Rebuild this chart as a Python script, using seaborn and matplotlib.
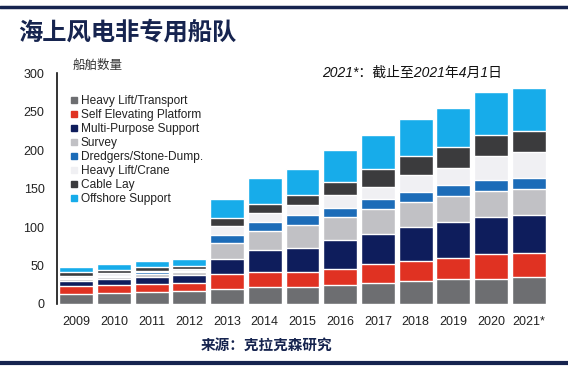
import numpy as np
import seaborn as sns
import matplotlib.pyplot as plt
from matplotlib.lines import Line2D

# data (number of vessels per type)
years = ['2009', '2010', '2011', '2012', '2013', '2014', '2015',
         '2016', '2017', '2018', '2019', '2020', '2021*']
heavy_lift_transport = [13, 14, 16, 17, 20, 21.5, 21.5, 24.5, 27.5, 30, 32, 33, 35.5]
self_elevating = [10.5, 10.5, 10, 10.5, 19, 20.5, 20.5, 20.5, 24.5, 25.5, 28, 32.5, 31.5]
multi_purpose = [6.5, 7.5, 9.5, 10, 19.5, 28, 30.5, 38, 39, 44.5, 46.5, 47.5, 48.5]
survey = [2.5, 3, 3.5, 3.5, 21.5, 25, 30, 30.5, 33, 33, 34.5, 34.5, 34.5]
dredgers = [1.5, 2, 2, 2, 10, 12, 13, 12, 13, 13, 14.5, 14.5, 14]
heavy_lift_crane = [3, 3, 2.5, 2, 11, 12, 13, 16, 15.5, 21.5, 22, 30.5, 34]
cable_lay = [4.5, 4, 5, 5, 11.5, 11.5, 13, 17.5, 23, 25, 26.5, 27.5, 27]
offshore_support = [6.5, 8, 7, 9, 24, 33.5, 34.5, 42, 44.5, 48.5, 51, 56.5, 55.5]

series_names = ['Heavy Lift/Transport', 'Self Elevating Platform', 'Multi-Purpose Support',
                'Survey', 'Dredgers/Stone-Dump.', 'Heavy Lift/Crane', 'Cable Lay',
                'Offshore Support']
series = [heavy_lift_transport, self_elevating, multi_purpose, survey,
          dredgers, heavy_lift_crane, cable_lay, offshore_support]
colors = ['#6d6e71', '#e03222', '#0e1d5c', '#c1c1c5',
          '#1c6cb8', '#f0f0f3', '#3b3b3d', '#17acea']

navy = '#16244f'

sns.set_theme(style='white')
plt.rcParams['font.family'] = ['Liberation Sans', 'Noto Sans CJK SC']

fig = plt.figure(figsize=(5.68, 3.71), dpi=100)
ax = fig.add_axes([0.1004, 0.1806, 0.8636, 0.6213])

# stacked bars: draw cumulative totals from the top layer down
cum = np.cumsum(np.array(series), axis=0)
for i in range(len(series) - 1, -1, -1):
    sns.barplot(x=years, y=cum[i], color=colors[i], width=0.9, saturation=1,
                errorbar=None, ax=ax)

ax.set_xlim(-0.51, 12.5)
ax.set_ylim(0, 300)
ax.set_yticks([0, 50, 100, 150, 200, 250, 300])
ax.set_xlabel('')
ax.set_ylabel('')
ax.tick_params(axis='both', length=0, labelsize=9, colors='#222222')
ax.tick_params(axis='y', pad=9)
ax.tick_params(axis='x', pad=9)
for s in ['top', 'right', 'bottom']:
    ax.spines[s].set_visible(False)
ax.spines['left'].set_color('#111111')
ax.spines['left'].set_linewidth(1.2)

# legend
handles = [Line2D([0], [0], marker='s', linestyle='', markersize=5,
                  markerfacecolor=c, markeredgecolor=c) for c in colors]
fig.legend(handles, series_names, loc='upper left',
           bbox_to_anchor=(64 / 568, 1 - 89 / 371), frameon=False, fontsize=8.6,
           borderpad=0, handlelength=0.6, handletextpad=0.3, labelspacing=0.17,
           labelcolor='#222222')

# texts
fig.text(18 / 568, 1 - 33 / 371, '海上风电非专用船队', fontsize=17.5, fontweight='heavy',
         color=navy, va='center', ha='left', family=['Noto Sans CJK SC'])
fig.text(73 / 568, 1 - 66 / 371, '船舶数量', fontsize=9, color='#333333',
         va='center', ha='left')
fig.text(322 / 568, 1 - 73 / 371, '2021*：截止至2021年4月1日', fontsize=10,
         style='italic', color='#111111', va='center', ha='left')
fig.text(266 / 568, 1 - 345 / 371, '来源：克拉克森研究', fontsize=10.5, fontweight='bold',
         color=navy, va='center', ha='center', family=['Noto Sans CJK SC'])

# top and bottom rules
fig.add_artist(Line2D([0, 1], [1 - 7 / 371, 1 - 7 / 371], color=navy, linewidth=2.5))
fig.add_artist(Line2D([0, 1], [1 - 363 / 371, 1 - 363 / 371], color=navy, linewidth=3))

fig.savefig('out.png', dpi=100)
